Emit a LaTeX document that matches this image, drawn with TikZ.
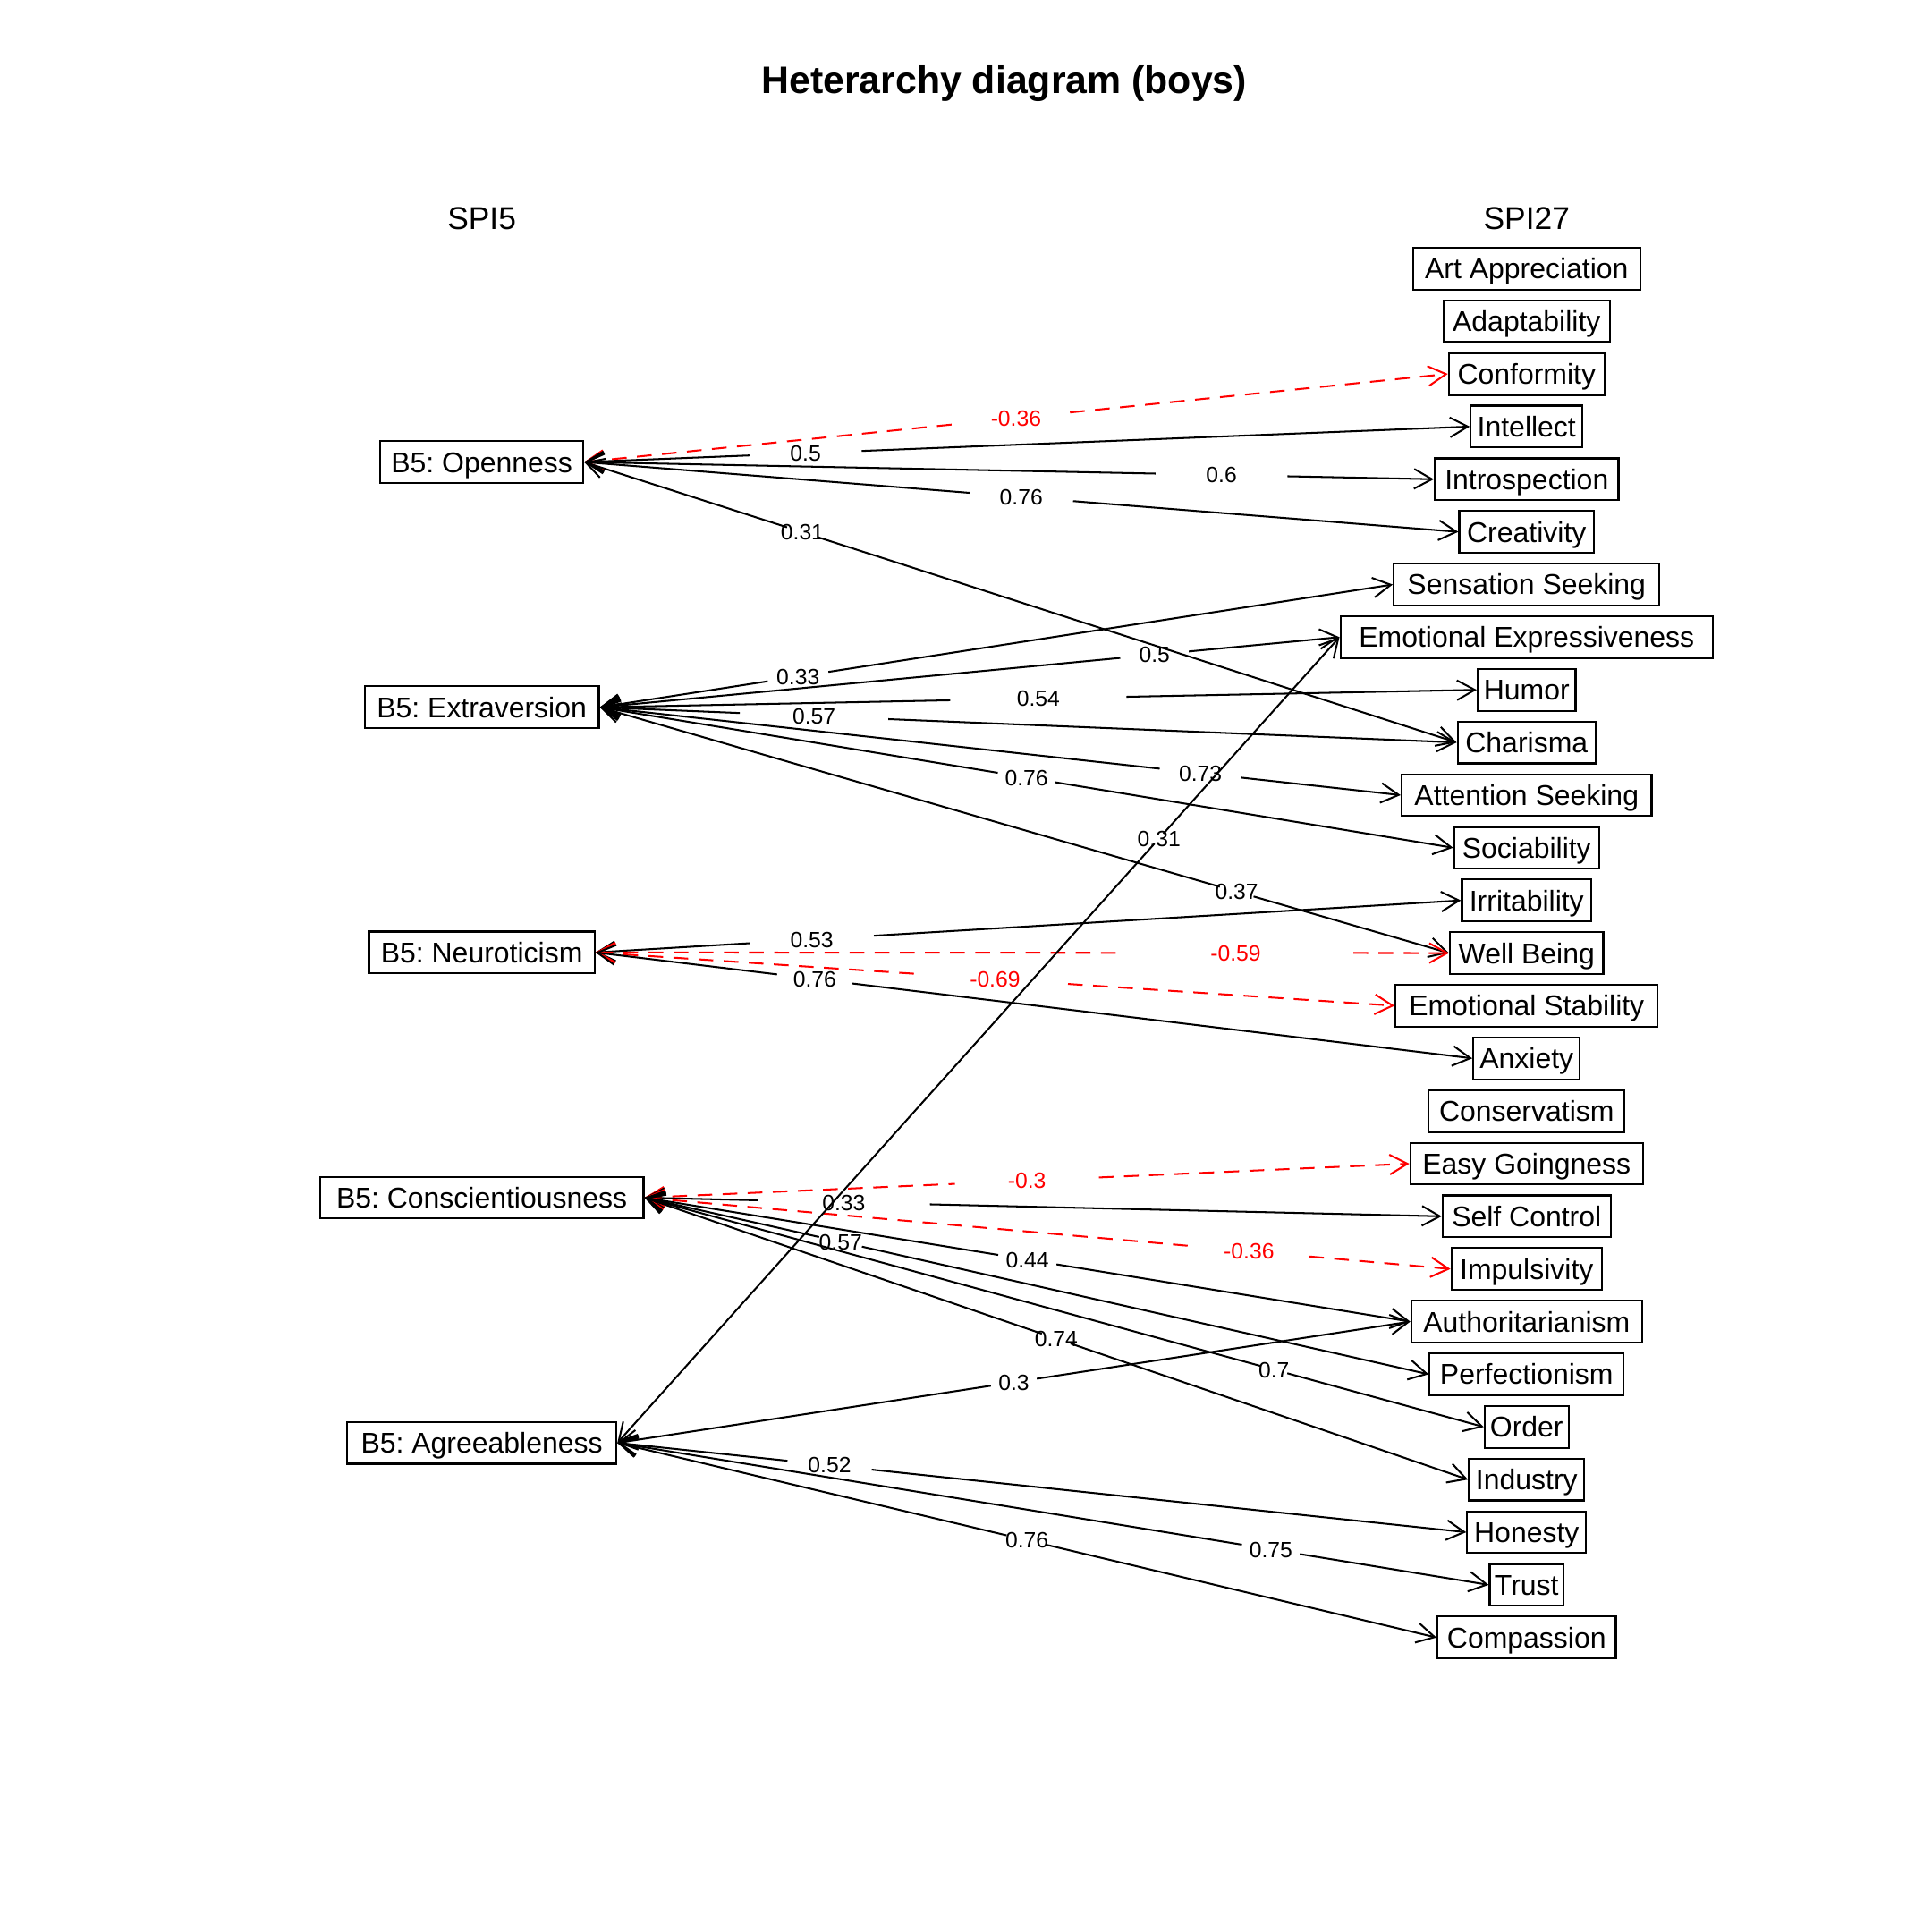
\documentclass[tikz,border=0pt]{standalone}
\usepackage{fontspec}
\setmainfont{Liberation Sans}
\usetikzlibrary{arrows.meta,calc}
\frenchspacing

\newsavebox\padbox
\newcommand\padtext[1]{\sbox\padbox{#1}\hspace*{0.05\wd\padbox}\usebox\padbox\hspace*{0.05\wd\padbox}}

% #1 from, #2 to, #3 label position, #4 label, #5 number of characters, #6 style
\newcommand\cedge[6]{%
  \path (#1.east); \pgfgetlastxy{\cxa}{\cya}%
  \path (#2.west); \pgfgetlastxy{\cxb}{\cyb}%
  \pgfmathsetmacro\csl{(\cyb-\cya)/(\cxb-\cxa)}%
  \pgfmathsetmacro\cdd{#5*5.435/sqrt(1+(19*\csl)^2)/(\cxb-\cxa)}%
  \pgfmathsetmacro\cpa{#3-\cdd}%
  \pgfmathsetmacro\cpb{#3+\cdd}%
  \draw[edge,#6,<-] (#1.east) -- ($(#1.east)!\cpa!(#2.west)$);
  \draw[edge,#6,->] ($(#1.east)!\cpb!(#2.west)$) -- (#2.west);
  \node[elab,#6] at ($(#1.east)!#3!(#2.west)$) {#4};
}

\begin{document}
\frenchspacing
\begin{tikzpicture}[x=0.01cm,y=-0.01cm,
  >={Straight Barb[length=1.45mm,width=1.6mm]},
  box/.style={draw, line width=0.45pt, inner xsep=0.4pt, inner ysep=0pt,
    minimum height=0.339cm, font=\fontsize{6.6}{7}\selectfont\frenchspacing,
    text height=4.73pt, text depth=0pt},
  edge/.style={line width=0.42pt, black},
  neg/.style={red, dash pattern=on 3.4pt off 2.4pt},
  elab/.style={font=\fontsize{5.1}{6}\selectfont, inner sep=0pt,
    text height=3.65pt, text depth=0pt},
  header/.style={font=\fontsize{7.3}{8}\selectfont, inner sep=0pt,
    text height=5.23pt, text depth=0pt},
  titlestyle/.style={font=\fontsize{8.84}{10}\selectfont\bfseries, inner sep=0pt,
    text height=6.33pt, text depth=0pt}
]
\useasboundingbox (0,0) rectangle (1568,1568);

\node[titlestyle] (title) at (815,65) {Heterarchy diagram (boys)};
\node[header] (h5) at (391,177) {SPI5};
\node[header] (h27) at (1239,177) {SPI27};

\node[box] (open)  at (391,375)  {\padtext{B5: Openness}};
\node[box] (extra) at (391,574)  {\padtext{B5: Extraversion}};
\node[box] (neuro) at (391,773)  {\padtext{B5: Neuroticism}};
\node[box] (consc) at (391,972)  {\padtext{B5: Conscientiousness}};
\node[box] (agree) at (391,1171) {\padtext{B5: Agreeableness}};

\foreach \n/\t [count=\i from 0] in {art/Art Appreciation, adapt/Adaptability,
  conf/Conformity, intel/Intellect, intro/Introspection, creat/Creativity,
  sens/Sensation Seeking, emoex/Emotional Expressiveness, humor/Humor,
  char/Charisma, attn/Attention Seeking, soc/Sociability, irr/Irritability,
  wb/Well Being, emost/Emotional Stability, anx/Anxiety, cons/Conservatism,
  easy/Easy Goingness, selfc/Self Control, imp/Impulsivity,
  auth/Authoritarianism, perf/Perfectionism, order/Order, ind/Industry,
  hon/Honesty, trust/Trust, comp/Compassion}
  \node[box] (\n) at (1239,{218+42.73*\i}) {\padtext{\t}};

% Openness
\cedge{open}{conf}{0.5}{-0.36}{5}{neg}
\cedge{open}{intel}{0.25}{0.5}{3}{}
\cedge{open}{intro}{0.75}{0.6}{3}{}
\cedge{open}{creat}{0.5}{0.76}{4}{}
\cedge{open}{char}{0.25}{0.31}{4}{}
% Extraversion
\cedge{extra}{sens}{0.25}{0.33}{4}{}
\cedge{extra}{emoex}{0.75}{0.5}{3}{}
\cedge{extra}{humor}{0.5}{0.54}{4}{}
\cedge{extra}{char}{0.25}{0.57}{4}{}
\cedge{extra}{attn}{0.75}{0.73}{4}{}
\cedge{extra}{soc}{0.5}{0.76}{4}{}
\cedge{extra}{wb}{0.75}{0.37}{4}{}
% Neuroticism
\cedge{neuro}{irr}{0.25}{0.53}{4}{}
\cedge{neuro}{wb}{0.75}{-0.59}{5}{neg}
\cedge{neuro}{emost}{0.5}{-0.69}{5}{neg}
\cedge{neuro}{anx}{0.25}{0.76}{4}{}
% Conscientiousness
\cedge{consc}{easy}{0.5}{-0.3}{4}{neg}
\cedge{consc}{selfc}{0.25}{0.33}{4}{}
\cedge{consc}{imp}{0.75}{-0.36}{5}{neg}
\cedge{consc}{auth}{0.5}{0.44}{4}{}
\cedge{consc}{perf}{0.25}{0.57}{4}{}
\cedge{consc}{order}{0.75}{0.7}{3}{}
\cedge{consc}{ind}{0.5}{0.74}{4}{}
% Agreeableness
\cedge{agree}{emoex}{0.75}{0.31}{4}{}
\cedge{agree}{auth}{0.5}{0.3}{3}{}
\cedge{agree}{hon}{0.25}{0.52}{4}{}
\cedge{agree}{trust}{0.75}{0.75}{4}{}
\cedge{agree}{comp}{0.5}{0.76}{4}{}
\end{tikzpicture}
\end{document}
